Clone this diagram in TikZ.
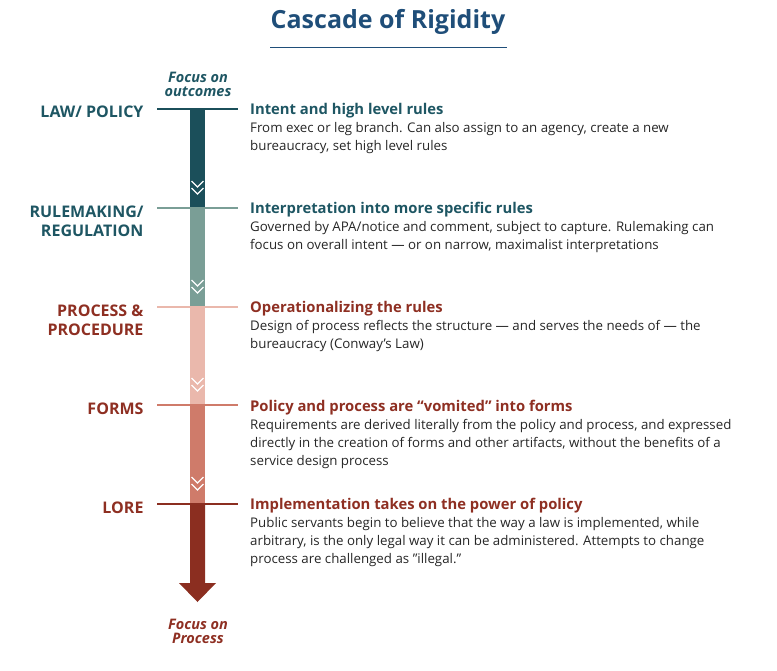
\documentclass[tikz,border=0pt]{standalone}
\usepackage{fontspec}
\setmainfont{Open Sans}
\definecolor{navy}{HTML}{1F4E79}
\definecolor{cA}{HTML}{1B4F5A}
\definecolor{cB}{HTML}{7A9E96}
\definecolor{cC}{HTML}{EAB8AC}
\definecolor{cD}{HTML}{CF7B6A}
\definecolor{cE}{HTML}{8B2E20}
\definecolor{teal}{HTML}{1E5663}
\definecolor{rust}{HTML}{8E2F22}
\definecolor{bodytext}{HTML}{262626}
\tikzset{
 lbl/.style={anchor=east,align=right,font=\fontsize{16}{19}\selectfont\bfseries},
 head/.style={anchor=north west,font=\fontsize{14.8}{17}\selectfont\bfseries,inner sep=0},
 body/.style={anchor=north west,align=left,font=\fontsize{13.3}{18}\selectfont,text=bodytext,inner sep=0},
 chev/.style={white,line width=1.1pt},
 focus/.style={align=center,font=\fontsize{14.5}{17}\selectfont\bfseries\itshape}
}
\begin{document}
\begin{tikzpicture}[x=1pt,y=-1pt]
\useasboundingbox (0,0) rectangle (777,670);
\node[font=\fontsize{25}{28}\selectfont\bfseries,text=navy] (title) at (388,22) {Cascade of Rigidity};
\draw[navy,line width=1pt] (270,47) -- (507,47);
\node[focus,text=teal] (ft) at (198,84) {Focus on\\[-3pt]outcomes};
% bar segments
\fill[cA] (190,109) rectangle (205,208);
\fill[cB] (190,208) rectangle (205,307);
\fill[cC] (190,307) rectangle (205,405);
\fill[cD] (190,405) rectangle (205,504);
\fill[cE] (190,504) -- (205,504) -- (205,583) -- (216,583) -- (197.5,602) -- (179,583) -- (190,583) -- cycle;
\foreach \ye in {208,307,405,504}{
 \draw[chev] (191.5,\ye-27) -- (197.5,\ye-21) -- (203.5,\ye-27);
 \draw[chev] (191.5,\ye-20) -- (197.5,\ye-14) -- (203.5,\ye-20);
}
\foreach \y/\c in {109/cA,208/cB,307/cC,405/cD,504/cE}{
 \draw[\c,line width=1.3pt] (157,\y) -- (238,\y);
}
\node[focus,text=rust] (fp) at (198,631) {Focus on\\[-3pt]Process};
% labels
\node[lbl,text=teal] (l1) at (147,112) {LAW/ POLICY};
\node[lbl,text=teal] (l2) at (147,221) {RULEMAKING/\\REGULATION};
\node[lbl,text=rust] (l3) at (147,320) {PROCESS \&\\PROCEDURE};
\node[lbl,text=rust] (l4) at (147,409) {FORMS};
\node[lbl,text=rust] (l5) at (147,508) {LORE};
% descriptions
\node[head,text=teal] (h1) at (250,103) {Intent and high level rules};
\node[body] (b1) at (250,122) {From exec or leg branch. Can also assign to an agency, create a new\\bureaucracy, set high level rules};
\node[head,text=teal] (h2) at (250,202) {Interpretation into more specific rules};
\node[body] (b2) at (250,221) {Governed by APA/notice and comment, subject to capture. Rulemaking can\\focus on overall intent — or on narrow, maximalist interpretations};
\node[head,text=rust] (h3) at (250,301) {Operationalizing the rules};
\node[body] (b3) at (250,320) {Design of process reflects the structure — and serves the needs of — the\\bureaucracy (Conway’s Law)};
\node[head,text=rust] (h4) at (250,400) {Policy and process are “vomited” into forms};
\node[body] (b4) at (250,419) {Requirements are derived literally from the policy and process, and expressed\\directly in the creation of forms and other artifacts, without the benefits of a\\service design process};
\node[head,text=rust] (h5) at (250,498) {Implementation takes on the power of policy};
\node[body] (b5) at (250,517) {Public servants begin to believe that the way a law is implemented, while\\arbitrary, is the only legal way it can be administered. Attempts to change\\process are challenged as ”illegal.”};
\end{tikzpicture}
\end{document}
